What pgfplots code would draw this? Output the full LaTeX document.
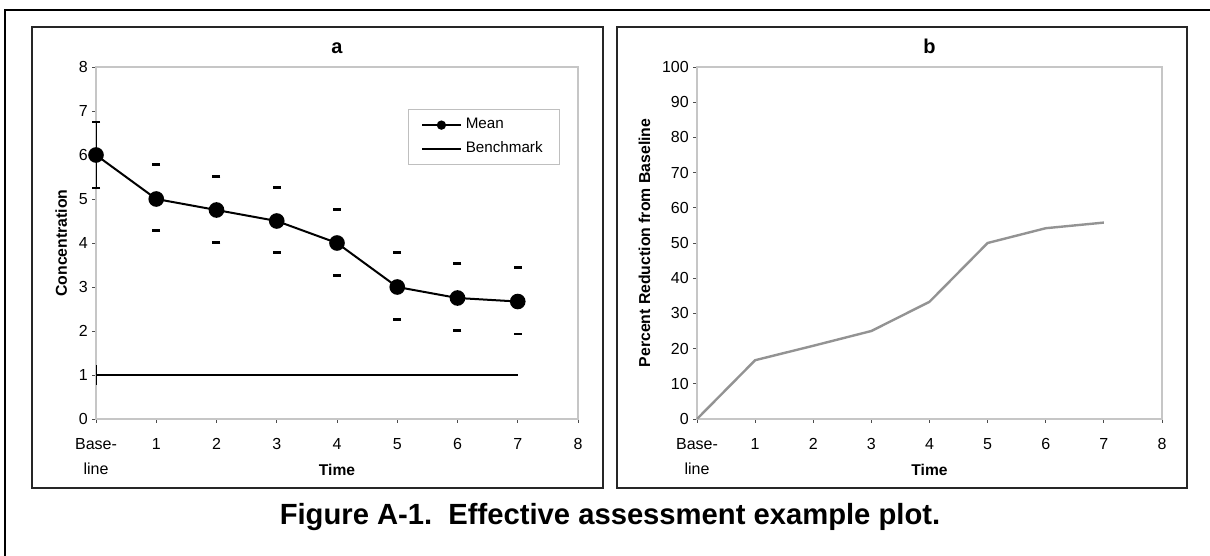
\documentclass[border=0pt]{standalone}
\usepackage{fontspec}
\setmainfont{Liberation Sans}
\usepackage{pgfplots}
\pgfplotsset{compat=1.18}
\pgfplotsset{
  common/.style={
    scale only axis, anchor=south west,
    height=176pt,
    axis line style={gray!45, line width=0.6pt},
    tick style={gray!60!black, line width=0.4pt},
    tick align=outside, major tick length=1.8pt,
    tick pos=left,
    /pgf/number format/assume math mode=true,
    ticklabel style={font=\fontsize{8}{12.5}\selectfont},
    xmin=0, xmax=8, xtick={0,...,8},
    xticklabels={{Base-\\line},1,2,3,4,5,6,7,8},
    xticklabel style={align=center, anchor=north, yshift=-4.5pt},
    yticklabel style={xshift=1.2pt},
    xlabel={Time},
    xlabel style={at={(axis description cs:0.5,0)}, anchor=center, yshift=-25.5pt, font=\bfseries\fontsize{7.8}{9}\selectfont},
    ylabel style={font=\bfseries\fontsize{7.9}{9}\selectfont, yshift=-1pt},
    title style={at={(axis description cs:0.5,1)}, anchor=south, yshift=-3pt, font=\bfseries\fontsize{10}{12}\selectfont},
    clip=false,
  }
}
\begin{document}
\begin{tikzpicture}
\begin{scope}[x=0.5pt,y=0.5pt]
\useasboundingbox (0,0) rectangle (1210,556);
\draw[line width=1.1pt] (5,0) -- (5,546) -- (1210,546);
\draw[line width=0.8pt, black!85] (32,68) rectangle (603,529);
\draw[line width=0.8pt, black!85] (617,68) rectangle (1187,529);
\node[font=\bfseries\fontsize{14.6}{16}\selectfont] at (610,39) {Figure A-1.\ \ Effective assessment example plot.};
\end{scope}

\begin{axis}[common, at={(48pt,68.5pt)}, width=241pt,
  ymin=0, ymax=8, ytick={0,...,8},
  ylabel={Concentration},
  title={a},
  legend style={at={(0.963,0.881)}, anchor=north east, draw=gray!50, line width=0.5pt,
    font=\fontsize{7.6}{9}\selectfont, inner xsep=6.5pt, inner ysep=2.5pt, row sep=1pt},
  legend cell align=left,
]
\addplot[black, line width=1pt, mark=*, mark size=3.4pt,
  legend image code/.code={\draw[black, line width=1pt] (0cm,0cm) -- (0.68cm,0cm);
    \fill[black] (0.34cm,0cm) circle (1.8pt);}]
  coordinates {(0,6) (1,5) (2,4.75) (3,4.5) (4,4) (5,3) (6,2.75) (7,2.67)};
\addlegendentry{Mean}
\addplot[black, line width=1pt,
  legend image code/.code={\draw[black, line width=1pt] (0cm,0cm) -- (0.68cm,0cm);}]
  coordinates {(0,1) (7,1)};
\addlegendentry{Benchmark}
% error caps
\addplot[forget plot, only marks, mark=-, mark size=2pt, black, mark options={line width=1.4pt}]
  coordinates {(0,6.75) (0,5.25) (1,5.78) (1,4.28) (2,5.52) (2,4.02) (3,5.27) (3,3.78)
               (4,4.77) (4,3.27) (5,3.78) (5,2.27) (6,3.53) (6,2.02) (7,3.44) (7,1.93)};
\addplot[forget plot, black, line width=0.4pt] coordinates {(0,5.25) (0,6.75)};
\addplot[forget plot, black, line width=0.4pt] coordinates {(0,0.77) (0,1.23)};
\end{axis}

\begin{axis}[common, at={(348.5pt,68.5pt)}, width=232.5pt,
  ymin=0, ymax=100, ytick={0,10,...,100},
  ylabel={Percent Reduction from Baseline},
  title={b},
]
\addplot[gray!85, line width=1.2pt]
  coordinates {(0,0) (1,16.7) (2,20.8) (3,25) (4,33.3) (5,50) (6,54.2) (7,55.8)};
\end{axis}
\end{tikzpicture}
\end{document}
